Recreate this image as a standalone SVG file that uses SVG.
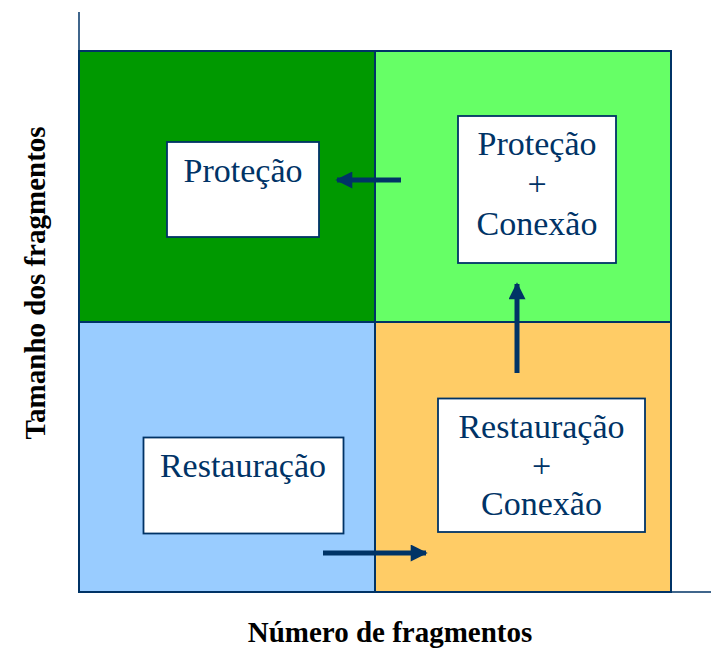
<svg xmlns="http://www.w3.org/2000/svg" width="711" height="648" viewBox="0 0 711 648">
<defs>
<style>
.q{stroke:#003366;stroke-width:2}
.box{fill:#ffffff;stroke:#003366;stroke-width:1.8}
.t{font-family:"Liberation Serif","Times New Roman",serif;font-size:34px;fill:#003366;text-anchor:middle}
.lbl{font-family:"Liberation Serif","Times New Roman",serif;font-size:29px;font-weight:bold;fill:#000000;text-anchor:middle}
.ax{stroke:#003366;stroke-width:1.5;fill:none}
.ar{stroke:#003366;stroke-width:5;fill:none;marker-end:url(#ah)}
</style>
<marker id="ah" viewBox="0 0 10 10" refX="9" refY="5" markerWidth="3.6" markerHeight="3.4" orient="auto" markerUnits="strokeWidth">
<path d="M0,0 L10,5 L0,10 Z" fill="#003366"/>
</marker>
</defs>
<rect width="711" height="648" fill="#ffffff"/>
<g id="axes">
<line class="ax" x1="79" y1="12" x2="79" y2="592"/>
<line class="ax" x1="79" y1="592" x2="711" y2="592"/>
</g>
<g id="quadrants">
<rect class="q" x="79" y="51" width="296" height="271" fill="#009900"/>
<rect class="q" x="375" y="51" width="296" height="271" fill="#66FF66"/>
<rect class="q" x="79" y="322" width="296" height="270" fill="#99CCFF"/>
<rect class="q" x="375" y="322" width="296" height="270" fill="#FFCC66"/>
</g>
<g id="connectors">
<line class="ar" x1="401" y1="180" x2="337" y2="180"/>
<line class="ar" x1="517" y1="373" x2="517" y2="284"/>
<line class="ar" x1="323" y1="553" x2="426" y2="553"/>
</g>
<g id="protecao">
<rect class="box" x="167" y="142" width="152" height="95"/>
<text class="t" x="243" y="182">Proteção</text>
</g>
<g id="protecao-conexao">
<rect class="box" x="458" y="116" width="158" height="147"/>
<text class="t" x="537" y="155">Proteção</text>
<text class="t" x="537" y="195">+</text>
<text class="t" x="537" y="235">Conexão</text>
</g>
<g id="restauracao">
<rect class="box" x="143.5" y="437.5" width="200" height="96"/>
<text class="t" x="243" y="477">Restauração</text>
</g>
<g id="restauracao-conexao">
<rect class="box" x="438" y="398.5" width="207" height="133.5"/>
<text class="t" x="541.5" y="438">Restauração</text>
<text class="t" x="541.5" y="477">+</text>
<text class="t" x="541.5" y="515">Conexão</text>
</g>
<g id="labels">
<text class="lbl" x="390" y="642">Número de fragmentos</text>
<text class="lbl" transform="translate(45,283) rotate(-90)">Tamanho dos fragmentos</text>
</g>
</svg>
